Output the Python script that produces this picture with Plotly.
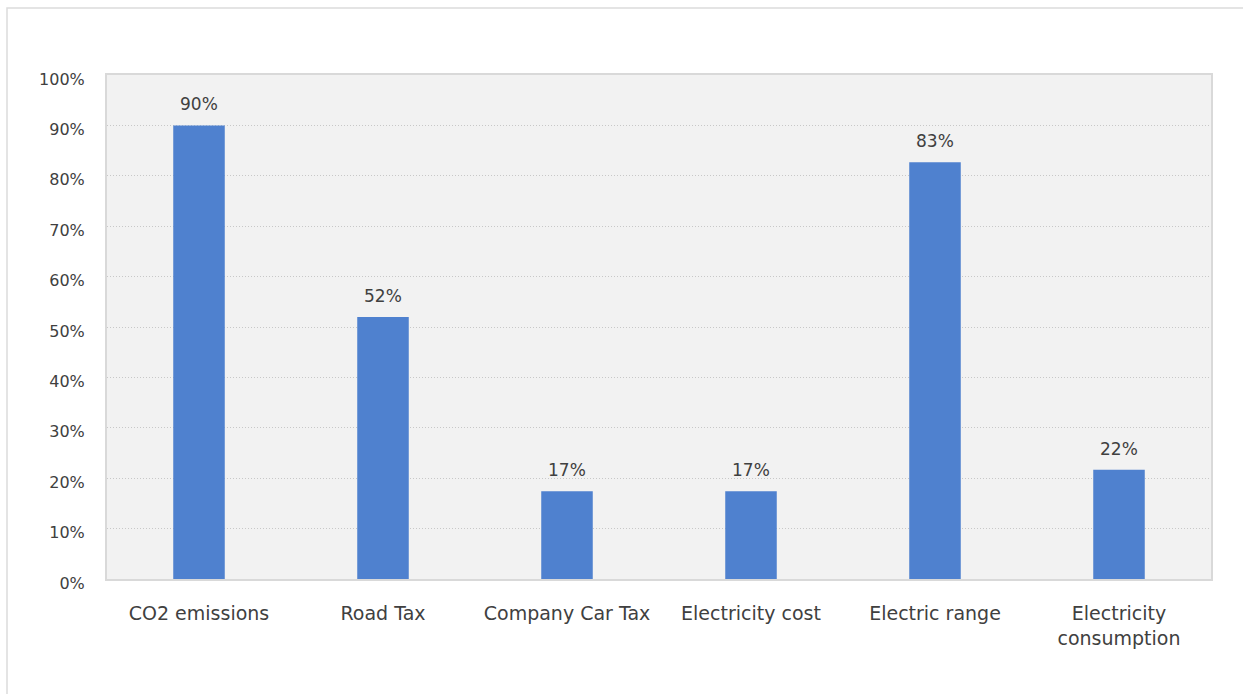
import plotly.graph_objects as go

categories = ["CO2 emissions", "Road Tax", "Company Car Tax", "Electricity cost",
              "Electric range", "Electricity<br>consumption"]
values = [0.90, 0.52, 0.174, 0.174, 0.827, 0.217]
labels = ["90%", "52%", "17%", "17%", "83%", "22%"]
y_ticks = [0, 0.1, 0.2, 0.3, 0.4, 0.5, 0.6, 0.7, 0.8, 0.9, 1.0]
y_tick_text = ["0%", "10%", "20%", "30%", "40%", "50%", "60%", "70%", "80%", "90%", "100%"]

W, H = 1243, 694
L, R, T, B = 107, 32, 75, 115
pw, ph = W - L - R, H - T - B

font_family = "'DejaVu Sans', sans-serif"
text_color = "#404040"

fig = go.Figure()
fig.add_trace(go.Bar(
    x=categories, y=values,
    marker=dict(color="#4f81cf", line=dict(width=0)),
    hoverinfo="skip",
))

for c, v, t in zip(categories, values, labels):
    fig.add_annotation(x=c, y=v, text=t, showarrow=False, yanchor="bottom",
                       yshift=9, font=dict(size=17, color=text_color, family=font_family))

# outer chart border (light gray frame)
fig.add_shape(type="rect", xref="paper", yref="paper",
              x0=(7 - L) / pw, x1=(W + 20 - L) / pw,
              y0=(H - B - (H + 20)) / ph, y1=(H - B - 8) / ph,
              line=dict(color="#dcdcdc", width=1.5), fillcolor="rgba(0,0,0,0)", layer="below")

fig.update_layout(
    width=W, height=H,
    margin=dict(l=L, r=R, t=T, b=B),
    paper_bgcolor="white",
    plot_bgcolor="#f2f2f2",
    bargap=0.72,
    showlegend=False,
    font=dict(family=font_family, size=16, color=text_color),
    xaxis=dict(
        showgrid=False, showline=True, linecolor="#d9d9d9", linewidth=2, mirror=True,
        ticks="outside", ticklen=16, tickcolor="rgba(0,0,0,0)",
        tickfont=dict(size=19, color=text_color),
        fixedrange=True,
    ),
    yaxis=dict(
        range=[0, 1.0], tickvals=y_ticks, ticktext=y_tick_text,
        showgrid=True, gridcolor="#c8c8c8", griddash="1px,2px", gridwidth=1,
        zeroline=False,
        showline=True, linecolor="#d9d9d9", linewidth=2, mirror=True,
        ticks="outside", ticklen=17, tickcolor="rgba(0,0,0,0)",
        ticklabelshift=4,
        tickfont=dict(size=16, color=text_color),
        fixedrange=True,
    ),
)

fig.write_html("out.html")
